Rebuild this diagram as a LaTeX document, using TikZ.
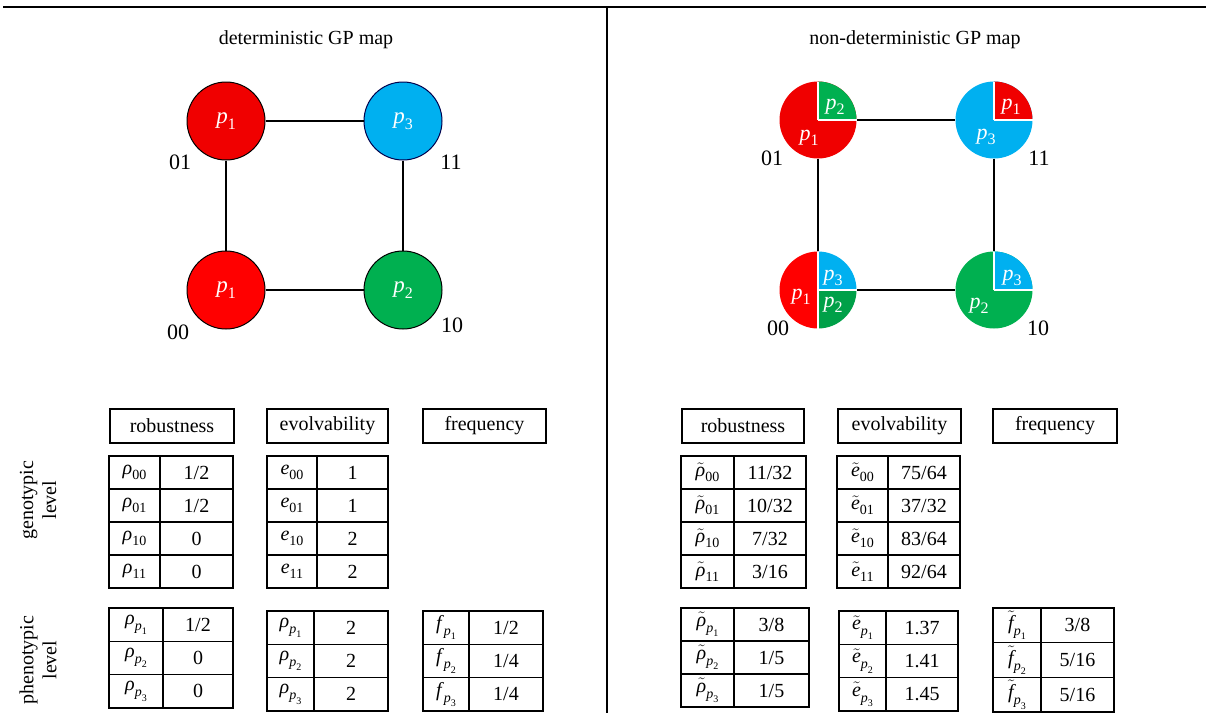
\documentclass[tikz,border=0pt]{standalone}
\usepackage{fontspec}
\setmainfont{Liberation Serif}
\usetikzlibrary{calc}
\definecolor{pred}{RGB}{240,0,0}
\definecolor{predb}{RGB}{255,0,0}
\definecolor{pgreen}{RGB}{0,176,80}
\definecolor{pgreenb}{RGB}{0,160,72}
\definecolor{pblue}{RGB}{0,176,240}
\newcommand{\pl}[1]{\textit{p}\raisebox{-0.25em}{\fontsize{16}{16}\selectfont #1}}
\newcommand{\sub}[1]{\raisebox{-0.25em}{\fontsize{14}{14}\selectfont #1}}
\newcommand{\psub}[1]{\raisebox{-0.3em}{\fontsize{14}{14}\selectfont\itshape p\raisebox{-0.3em}{\fontsize{10}{10}\selectfont\upshape #1}}}
\newcommand{\tld}[1]{$\tilde{\mbox{\itshape #1}}$}
\newcommand{\settable}[6]{\def\tn{#1}\def\txl{#2}\def\txm{#3}\def\txr{#4}\def\tyt{#5}\def\trh{#6}}
\newcommand{\trow}[3]{%
  \pgfmathsetmacro\ya{\tyt+(#1-1)*\trh}%
  \pgfmathsetmacro\yb{\tyt+#1*\trh}%
  \draw[tabline] (\txl,\ya) rectangle (\txm,\yb) (\txm,\ya) rectangle (\txr,\yb);
  \node[celltext] (\tn-k#1) at ({(\txl+\txm)/2},{(\ya+\yb)/2}) {#2};
  \node[celltext] (\tn-v#1) at ({(\txm+\txr)/2},{(\ya+\yb)/2}) {#3};
}
\begin{document}
\begin{tikzpicture}[x=1pt,y=-1pt,
  tabline/.style={line width=1.3pt},
  celltext/.style={font=\fontsize{20}{24}\selectfont, inner sep=0pt},
  hdr/.style={draw, line width=1.3pt, font=\fontsize{20}{24}\selectfont, minimum height=34pt, inner sep=0pt},
  title/.style={font=\fontsize{20}{24}\selectfont},
  lcirc/.style={circle, draw=black, line width=1pt, minimum size=78pt, inner sep=0pt, text=white, font=\fontsize{23}{26}\selectfont},
  rcirc/.style={circle, minimum size=77pt, inner sep=0pt},
  plab/.style={text=white, font=\fontsize{22}{26}\selectfont, inner sep=0pt},
  glab/.style={font=\fontsize{22}{26}\selectfont, inner sep=0pt},
  edge/.style={line width=1.4pt},
  sep/.style={white, line width=1.6pt},
  side/.style={font=\fontsize{20}{23}\selectfont, rotate=90, align=center, inner sep=0pt}]
\useasboundingbox (0,0) rectangle (1206,713);
% frame lines
\draw[line width=1.5pt] (3,7) -- (1206,7);
\draw[line width=1.5pt] (607,7) -- (607,713);
% titles
\node[title] (t1) at (306,40) {deterministic GP map};
\node[title] (t2) at (915,40) {non-deterministic GP map};
% ---------- left graph ----------
\node[lcirc, fill=pred] (L01) at (226,121) {\pl{1}};
\node[lcirc, fill=pblue, draw=black!70!blue] (L11) at (403,121) {\pl{3}};
\node[lcirc, fill=predb] (L00) at (226,290) {\pl{1}};
\node[lcirc, fill=pgreen] (L10) at (403,290) {\pl{2}};
\draw[edge] (L01) -- (L11);
\draw[edge] (L00) -- (L10);
\draw[edge] (L01) -- (L00);
\draw[edge] (L11) -- (L10);
\node[glab] (g01) at (180,162) {01};
\node[glab] (g11) at (451,162) {11};
\node[glab] (g00) at (178,332) {00};
\node[glab] (g10) at (452,325) {10};
% ---------- right graph ----------
\def\rr{38.5}
\node[rcirc] (R01) at (818,120) {};
\node[rcirc] (R11) at (994,120) {};
\node[rcirc] (R00) at (818,290) {};
\node[rcirc] (R10) at (994,290) {};
\draw[edge] (R01) -- (R11);
\draw[edge] (R00) -- (R10);
\draw[edge] (R01) -- (R00);
\draw[edge] (R11) -- (R10);
% R01
\fill[pred] (R01.center) circle[radius=\rr];
\fill[pgreen] (R01.center) -- +(\rr,0) arc[start angle=0,end angle=-90,radius=\rr] -- cycle;
\draw[sep] (R01.center) -- +(0,-\rr) (R01.center) -- +(\rr,0);
% R11
\fill[pblue] (R11.center) circle[radius=\rr];
\fill[pred] (R11.center) -- +(\rr,0) arc[start angle=0,end angle=-90,radius=\rr] -- cycle;
\draw[sep] (R11.center) -- +(0,-\rr) (R11.center) -- +(\rr,0);
% R00
\fill[predb] (R00.center) -- +(0,-\rr) arc[start angle=-90,end angle=-270,radius=\rr] -- cycle;
\fill[pblue] (R00.center) -- +(\rr,0) arc[start angle=0,end angle=-90,radius=\rr] -- cycle;
\fill[pgreenb] (R00.center) -- +(\rr,0) arc[start angle=0,end angle=90,radius=\rr] -- cycle;
\draw[sep] (R00.center) -- +(0,-\rr) (R00.center) -- +(0,\rr) (R00.center) -- +(\rr,0);
% R10
\fill[pgreen] (R10.center) circle[radius=\rr];
\fill[pblue] (R10.center) -- +(\rr,0) arc[start angle=0,end angle=-90,radius=\rr] -- cycle;
\draw[sep] (R10.center) -- +(0,-\rr) (R10.center) -- +(\rr,0);
% labels in right circles
\node[plab] (r01a) at (835,107) {\pl{2}};
\node[plab] (r01b) at (809,138) {\pl{1}};
\node[plab] (r11a) at (1011,107) {\pl{1}};
\node[plab] (r11b) at (986,137) {\pl{3}};
\node[plab] (r00a) at (833,278) {\pl{3}};
\node[plab] (r00b) at (801,297) {\pl{1}};
\node[plab] (r00c) at (833,305) {\pl{2}};
\node[plab] (r10a) at (1012,278) {\pl{3}};
\node[plab] (r10b) at (979,306) {\pl{2}};
\node[glab] (h01) at (772,158) {01};
\node[glab] (h11) at (1039,158) {11};
\node[glab] (h00) at (778,328) {00};
\node[glab] (h10) at (1038,328) {10};
% ---------- side labels ----------
\node[side] (sg) at (38,500) {genotypic\\level};
\node[side] (sp) at (38,660) {phenotypic\\level};
% ---------- headers ----------
\node[hdr, minimum width=124pt] (lh1) at (172,426) {robustness};
\node[hdr, minimum width=121pt] (lh2) at (327.5,426) {evolvability};
\node[hdr, minimum width=123pt] (lh3) at (484.5,426) {frequency};
\node[hdr, minimum width=122pt] (rh1) at (743,426) {robustness};
\node[hdr, minimum width=123pt] (rh2) at (899.5,426) {evolvability};
\node[hdr, minimum width=124pt] (rh3) at (1055,426) {frequency};
% ---------- left tables ----------
\settable{lrg}{109}{160}{233}{456}{33}
\trow{1}{\textit{ρ}\sub{00}}{1/2}
\trow{2}{\textit{ρ}\sub{01}}{1/2}
\trow{3}{\textit{ρ}\sub{10}}{0}
\trow{4}{\textit{ρ}\sub{11}}{0}
\settable{leg}{267}{317}{388}{456}{33}
\trow{1}{\textit{e}\sub{00}}{1}
\trow{2}{\textit{e}\sub{01}}{1}
\trow{3}{\textit{e}\sub{10}}{2}
\trow{4}{\textit{e}\sub{11}}{2}
\settable{lrp}{109}{163}{233}{608}{33.3}
\trow{1}{\textit{ρ}\psub{1}}{1/2}
\trow{2}{\textit{ρ}\psub{2}}{0}
\trow{3}{\textit{ρ}\psub{3}}{0}
\settable{lep}{267}{314}{388}{611}{33.3}
\trow{1}{\textit{ρ}\psub{1}}{2}
\trow{2}{\textit{ρ}\psub{2}}{2}
\trow{3}{\textit{ρ}\psub{3}}{2}
\settable{lfp}{423}{469}{543}{611}{33.3}
\trow{1}{\textit{f}\psub{1}}{1/2}
\trow{2}{\textit{f}\psub{2}}{1/4}
\trow{3}{\textit{f}\psub{3}}{1/4}
% ---------- right tables ----------
\settable{rrg}{681}{734}{806}{456}{33}
\trow{1}{\tld{ρ}\sub{00}}{11/32}
\trow{2}{\tld{ρ}\sub{01}}{10/32}
\trow{3}{\tld{ρ}\sub{10}}{7/32}
\trow{4}{\tld{ρ}\sub{11}}{3/16}
\settable{reg}{837}{888}{960}{456}{33}
\trow{1}{\tld{e}\sub{00}}{75/64}
\trow{2}{\tld{e}\sub{01}}{37/32}
\trow{3}{\tld{e}\sub{10}}{83/64}
\trow{4}{\tld{e}\sub{11}}{92/64}
\settable{rrp}{681}{734}{809}{608}{33}
\trow{1}{\tld{ρ}\psub{1}}{3/8}
\trow{2}{\tld{ρ}\psub{2}}{1/5}
\trow{3}{\tld{ρ}\psub{3}}{1/5}
\settable{rep}{839}{886}{958}{611}{33.3}
\trow{1}{\tld{e}\psub{1}}{1.37}
\trow{2}{\tld{e}\psub{2}}{1.41}
\trow{3}{\tld{e}\psub{3}}{1.45}
\settable{rfp}{993}{1041}{1114}{608}{34.7}
\trow{1}{\tld{f}\psub{1}}{3/8}
\trow{2}{\tld{f}\psub{2}}{5/16}
\trow{3}{\tld{f}\psub{3}}{5/16}
\end{tikzpicture}
\end{document}
